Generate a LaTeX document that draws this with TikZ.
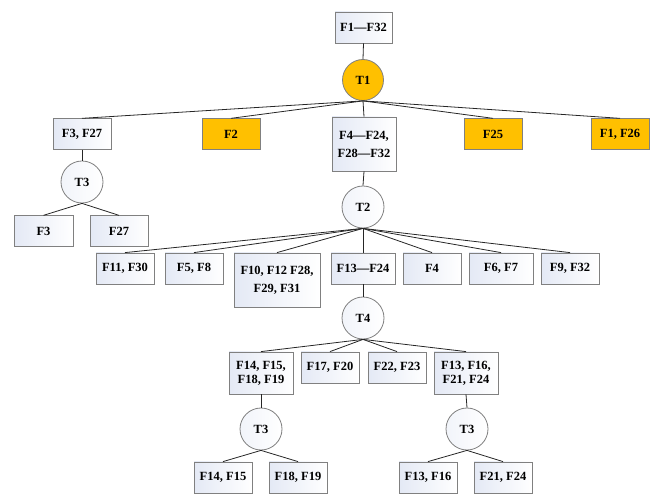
\documentclass[tikz,border=0pt]{standalone}
\usepackage{fontspec}
\setmainfont{Liberation Serif}
\definecolor{boxline}{HTML}{808080}
\definecolor{boxtint}{HTML}{E4E9F5}
\definecolor{hit}{HTML}{FFC000}
\definecolor{edge}{HTML}{262626}
\begin{document}
\begin{tikzpicture}[x=1pt,y=-1pt,
  every node/.style={font=\fontsize{12.5}{18}\selectfont\bfseries, inner sep=0pt, align=center},
  box/.style={draw=boxline, line width=0.8pt, left color=boxtint, right color=white,
              minimum width=58pt, minimum height=30.5pt},
  hitbox/.style={draw=boxline, line width=0.8pt, fill=hit, minimum width=58pt, minimum height=30.5pt},
  tight/.style={font=\fontsize{12.5}{14}\selectfont\bfseries},
  test/.style={circle, draw=boxline, line width=0.8pt, left color=boxtint!50, right color=white,
               minimum size=42pt},
  hittest/.style={circle, draw=boxline, line width=0.8pt, fill=hit, minimum size=41pt},
  link/.style={draw=edge, line width=0.8pt}]
\useasboundingbox (0,0) rectangle (657,494);

% root
\node[box, minimum width=57pt, minimum height=31pt] (all) at (363.5,27.5) {F1---F32};
\node[hittest] (t1) at (363,80) {T1};

% first split
\node[box] (a1) at (82,134) {F3, F27};
\node[hitbox] (a2) at (231,134) {F2};
\node[box, minimum width=64pt, minimum height=54pt] (a3) at (364,144) {F4---F24,\\F28---F32};
\node[hitbox] (a4) at (493,134) {F25};
\node[hitbox] (a5) at (620,134) {F1, F26};

% left branch
\node[test] (t3a) at (82,182) {T3};
\node[box, minimum width=59pt] (b1) at (43.5,231) {F3};
\node[box] (b2) at (119,231) {F27};

% middle branch
\node[test] (t2) at (363,207) {T2};
\node[box, minimum height=31pt] (c1) at (125,268.5) {F11, F30};
\node[box, minimum height=31pt] (c2) at (194,268.5) {F5, F8};
\node[box, minimum width=86pt, minimum height=54pt] (c3) at (277,280) {F10, F12 F28,\\F29, F31};
\node[box, minimum width=64pt, minimum height=31pt] (c4) at (363,268.5) {F13---F24};
\node[box, minimum height=31pt] (c5) at (432,268.5) {F4};
\node[box, minimum width=64pt, minimum height=31pt] (c6) at (501,268.5) {F6, F7};
\node[box, minimum height=31pt] (c7) at (570,268.5) {F9, F32};

\node[test] (t4) at (363,318) {T4};
\node[box, tight, minimum width=64pt, minimum height=42pt] (d1) at (261,373) {F14, F15,\\F18, F19};
\node[box, minimum height=31pt] (d2) at (330,367.5) {F17, F20};
\node[box, minimum height=31pt] (d3) at (397,367.5) {F22, F23};
\node[box, tight, minimum width=64pt, minimum height=42pt] (d4) at (466,373) {F13, F16,\\F21, F24};

\node[test] (t3b) at (261,429) {T3};
\node[test] (t3c) at (467,429) {T3};
\node[box, minimum height=31pt] (e1) at (223,477.5) {F14, F15};
\node[box, minimum height=31pt] (e2) at (298,477.5) {F18, F19};
\node[box, minimum height=31pt] (e3) at (428,477.5) {F13, F16};
\node[box, minimum height=31pt] (e4) at (503,477.5) {F21, F24};

% connectors
\path[link] (all.south) -- (t1.north);
\foreach \n in {a1,a2,a3,a4,a5} \path[link] (t1.south) -- (\n.north);
\path[link] (a1.south) -- (t3a.north);
\foreach \n in {b1,b2} \path[link] (t3a.south) -- (\n.north);
\path[link] (a3.south) -- (t2.north);
\foreach \n in {c1,c2,c3,c4,c5,c6,c7} \path[link] (t2.south) -- (\n.north);
\path[link] (c4.south) -- (t4.north);
\foreach \n in {d1,d2,d3,d4} \path[link] (t4.south) -- (\n.north);
\path[link] (d1.south) -- (t3b.north);
\path[link] (d4.south) -- (t3c.north);
\foreach \n in {e1,e2} \path[link] (t3b.south) -- (\n.north);
\foreach \n in {e3,e4} \path[link] (t3c.south) -- (\n.north);
\end{tikzpicture}
\end{document}
